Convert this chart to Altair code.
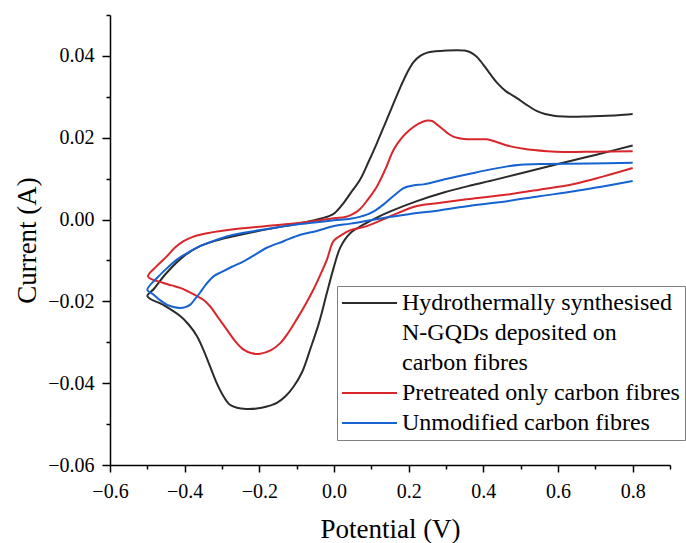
import altair as alt
import pandas as pd

series_names = [
    "Hydrothermally synthesised N-GQDs deposited on carbon fibres",
    "Pretreated only carbon fibres",
    "Unmodified carbon fibres",
]
series_colors = ["#2b2b2b", "#d9262b", "#1562d0"]

# Each loop: right end of the return branch -> left vertex (-0.5 V) -> right end of forward branch
black_x = [0.80, 0.70, 0.60, 0.504, 0.43, 0.365, 0.294, 0.222, 0.151, 0.124, 0.08, 0.044, 0.017, 0.0, -0.019,
           -0.04, -0.064, -0.085, -0.108, -0.13, -0.153, -0.18, -0.207, -0.235, -0.26, -0.28, -0.296, -0.315, -0.332,
           -0.35, -0.367, -0.39, -0.412, -0.455, -0.5,
           -0.484, -0.448, -0.403, -0.359, -0.31, -0.269, -0.18, -0.09, -0.037, -0.001, 0.026, 0.044, 0.07, 0.092,
           0.115, 0.138, 0.16, 0.18, 0.196, 0.213, 0.231, 0.25, 0.267, 0.3, 0.33, 0.35, 0.365, 0.38, 0.392, 0.415,
           0.437, 0.46, 0.49, 0.515, 0.544, 0.565, 0.589, 0.615, 0.643, 0.68, 0.714, 0.76, 0.80]
black_y = [0.0181, 0.0158, 0.0136, 0.0114, 0.0097, 0.0083, 0.0066, 0.0045, 0.0020, 0.0009, -0.0012, -0.0033, -0.0068,
           -0.0115, -0.0179, -0.0252, -0.0318, -0.0372, -0.0408, -0.0432, -0.0448, -0.0457, -0.0462, -0.0463, -0.0460,
           -0.0452, -0.0432, -0.0398, -0.0359, -0.0318, -0.0285, -0.0256, -0.0236, -0.0210, -0.0187,
           -0.0171, -0.0130, -0.0090, -0.0065, -0.0050, -0.0041, -0.0024, -0.0009, 0.0002, 0.0014, 0.0041, 0.0064,
           0.0098, 0.0140, 0.0187, 0.0237, 0.0285, 0.0328, 0.0359, 0.0385, 0.0400, 0.0408, 0.0411, 0.0413, 0.0414,
           0.0413, 0.0409, 0.0400, 0.0388, 0.0360, 0.0334, 0.0314, 0.0297, 0.0281, 0.0265, 0.0258, 0.0254, 0.0252,
           0.0251, 0.0252, 0.0253, 0.0255, 0.0258]

red_x = [0.80, 0.72, 0.643, 0.55, 0.464, 0.37, 0.285, 0.222, 0.151, 0.088, 0.044, 0.02, -0.001, -0.019, -0.037,
         -0.055, -0.078, -0.10, -0.122, -0.144, -0.17, -0.198, -0.22, -0.242, -0.265, -0.287, -0.31, -0.332, -0.35,
         -0.367, -0.39, -0.412, -0.435, -0.457, -0.498,
         -0.475, -0.448, -0.425, -0.403, -0.38, -0.359, -0.269, -0.18, -0.09, 0.0, 0.03, 0.05, 0.07, 0.09, 0.115,
         0.138, 0.16, 0.182, 0.204, 0.228, 0.249, 0.263, 0.276, 0.29, 0.303, 0.321, 0.348, 0.38, 0.41, 0.437, 0.464,
         0.508, 0.571, 0.616, 0.705, 0.80]
red_y = [0.0126, 0.0105, 0.0087, 0.0073, 0.0061, 0.0051, 0.0041, 0.0033, 0.0008, -0.0016, -0.0026, -0.0038,
         -0.0052, -0.0098, -0.0136, -0.0171, -0.0210, -0.0244, -0.0276, -0.0302, -0.0320, -0.0328, -0.0327, -0.0318,
         -0.0297, -0.0269, -0.0240, -0.0212, -0.0196, -0.0187, -0.0176, -0.0167, -0.0161, -0.0155, -0.0139,
         -0.0114, -0.0090, -0.0068, -0.0053, -0.0043, -0.0037, -0.0024, -0.0016, -0.0008, 0.0003, 0.0006, 0.0013,
         0.0026, 0.0048, 0.0081, 0.0124, 0.0171, 0.0200, 0.0220, 0.0235, 0.0242, 0.0241, 0.0232, 0.0222, 0.0212,
         0.0202, 0.0197, 0.0196, 0.0196, 0.0189, 0.0181, 0.0173, 0.0167, 0.0165, 0.0166, 0.0167]

blue_x = [0.80, 0.72, 0.643, 0.55, 0.464, 0.365, 0.285, 0.20, 0.133, 0.044, 0.0, -0.046, -0.09, -0.135, -0.18,
          -0.21, -0.242, -0.275, -0.305, -0.32, -0.332, -0.345, -0.359, -0.372, -0.385, -0.398, -0.412, -0.43,
          -0.448, -0.466, -0.484, -0.5,
          -0.47, -0.445, -0.421, -0.39, -0.359, -0.31, -0.269, -0.18, -0.09, 0.0, 0.044, 0.088, 0.11, 0.133, 0.152,
          0.169, 0.183, 0.196, 0.215, 0.24, 0.294, 0.374, 0.464, 0.50, 0.553, 0.687, 0.80]
blue_y = [0.0094, 0.0081, 0.0069, 0.0057, 0.0045, 0.0034, 0.0023, 0.0013, 0.0004, -0.0010, -0.0016, -0.0028,
          -0.0037, -0.0053, -0.0069, -0.0085, -0.0102, -0.0116, -0.0130, -0.0137, -0.0147, -0.0161, -0.0179,
          -0.0194, -0.0208, -0.0214, -0.0216, -0.0214, -0.0208, -0.0197, -0.0183, -0.0172,
          -0.0139, -0.0117, -0.0098, -0.0080, -0.0065, -0.0048, -0.0037, -0.0023, -0.0011, -0.0002, 0.0002, 0.0012,
          0.0022, 0.0037, 0.0052, 0.0065, 0.0075, 0.0080, 0.0084, 0.0086, 0.0098, 0.0114, 0.0130, 0.0134, 0.0136,
          0.0137, 0.0139]

x_ticks = [round(-0.6 + 0.1 * i, 1) for i in range(16)]
y_ticks = [round(-0.06 + 0.01 * i, 2) for i in range(12)]

rows = []
for name, xs, ys in zip(series_names, [black_x, red_x, blue_x], [black_y, red_y, blue_y]):
    for i, (xv, yv) in enumerate(zip(xs, ys)):
        rows.append({"series": name, "potential": xv, "current": yv, "idx": i})
df = pd.DataFrame(rows)

FONT = "Liberation Serif"
x_major = "abs(round(datum.value*10)) % 2 == 0"
y_major = "abs(round(datum.value*100)) % 2 == 0"

multi = ("datum.label == 'Hydrothermally synthesised N-GQDs deposited on carbon fibres' ? "
         "['Hydrothermally synthesised', 'N-GQDs deposited on', 'carbon fibres'] : datum.label")

chart = alt.Chart(df).mark_line(strokeWidth=2, interpolate="catmull-rom").encode(
    x=alt.X("potential:Q",
            scale=alt.Scale(domain=[-0.6, 0.9], nice=False, zero=False),
            axis=alt.Axis(values=x_ticks, format=".1f",
                          labelExpr=f"{x_major} ? datum.label : ''",
                          tickSize={"condition": {"test": x_major, "value": 7}, "value": 4},
                          labelFlush=False, labelOverlap=False, grid=False,
                          domainColor="black", tickColor="black", domainWidth=1.5, tickWidth=1.5,
                          labelFont=FONT, labelFontSize=20, labelColor="black", labelPadding=9,
                          title="Potential (V)", titleFont=FONT, titleFontSize=27,
                          titleFontWeight="normal", titleColor="black", titlePadding=15)),
    y=alt.Y("current:Q",
            scale=alt.Scale(domain=[-0.06, 0.05], nice=False, zero=False),
            axis=alt.Axis(values=y_ticks, format=".2f",
                          labelExpr=f"{y_major} ? datum.label : ''",
                          tickSize={"condition": {"test": y_major, "value": 8}, "value": 4},
                          labelFlush=False, labelOverlap=False, grid=False,
                          domainColor="black", tickColor="black", domainWidth=1.5, tickWidth=1.5,
                          labelFont=FONT, labelFontSize=20, labelColor="black", labelPadding=8,
                          title="Current (A)", titleFont=FONT, titleFontSize=27,
                          titleFontWeight="normal", titleColor="black", titlePadding=6)),
    color=alt.Color("series:N",
                    scale=alt.Scale(domain=series_names, range=series_colors),
                    sort=series_names,
                    legend=alt.Legend(title=None, orient="none", legendX=227, legendY=271,
                                      padding=5, strokeColor="#808080", fillColor="white",
                                      symbolType="M-5,0H5", symbolSize=121, symbolStrokeWidth=2,
                                      symbolOffset=15.5, labelOffset=20.5,
                                      labelFont=FONT, labelFontSize=24, labelColor="black",
                                      labelLimit=600, rowPadding=6, labelExpr=multi)),
    order="idx:Q",
).properties(
    width=560, height=450,
    padding={"left": 110, "top": 15, "right": 16, "bottom": 78},
    autosize=alt.AutoSizeParams(type="none"),
).configure(
    style={"guide-label": {"lineHeight": 30, "font": FONT, "fill": "black"}}
).configure_axis(labelFont=FONT).configure_view(stroke=None)

chart.save("out.html", embed_options={"renderer": "svg", "actions": False})
